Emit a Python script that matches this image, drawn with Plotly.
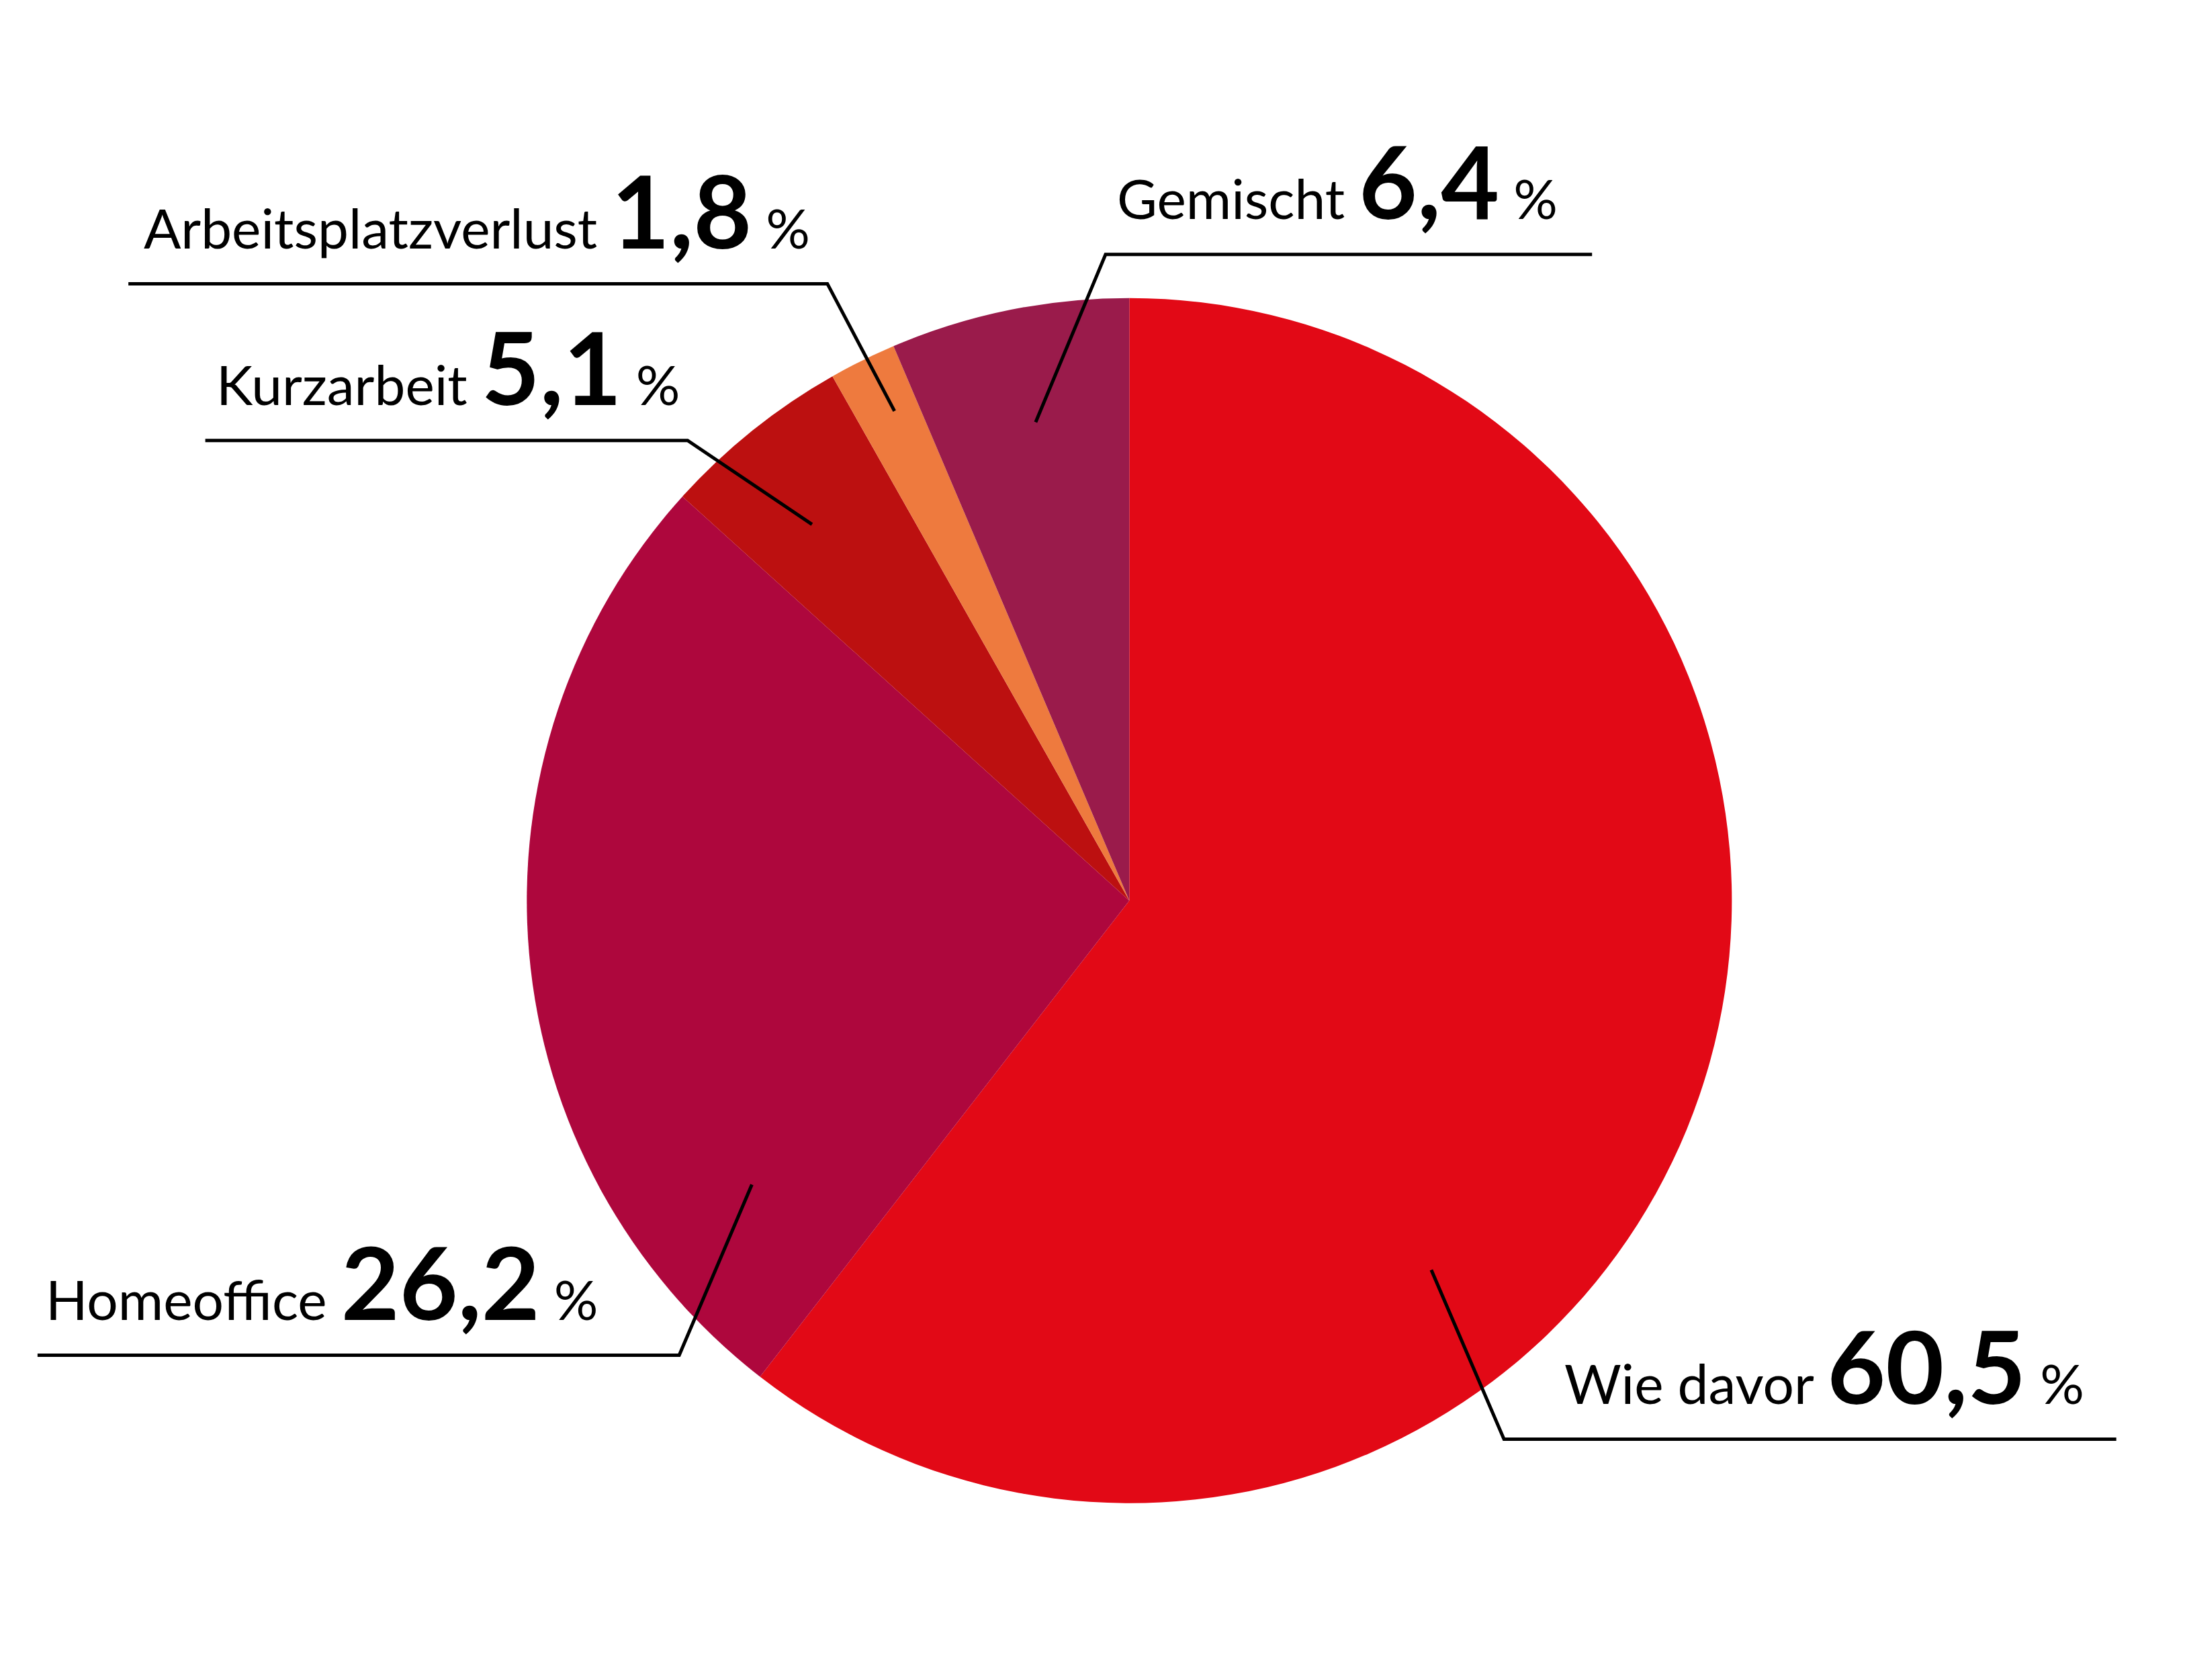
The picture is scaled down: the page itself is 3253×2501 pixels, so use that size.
import plotly.graph_objects as go

labels = ["Wie davor", "Homeoffice", "Kurzarbeit", "Arbeitsplatzverlust", "Gemischt"]
values = [60.5, 26.2, 5.1, 1.8, 6.4]
value_text = ["60,5", "26,2", "5,1", "1,8", "6,4"]
colors = ["#E20916", "#AE073D", "#BC1010", "#EE7A3E", "#9A1B4B"]

W, H = 3253, 2501
DW, DH = 1563, 1201  # reference-display coordinate frame
def px(x): return x / DW
def py(y): return 1 - y / DH

cx, cy, r = 804, 640, 431
fig = go.Figure(go.Pie(
    labels=labels, values=values, marker=dict(colors=colors, line=dict(width=0)),
    sort=False, direction="clockwise", rotation=0, textinfo="none", hoverinfo="label+percent",
    domain=dict(x=[px(cx - r), px(cx + r)], y=[py(cy + r), py(cy - r)]),
    showlegend=False,
))

leaders = {
    "Wie davor": [(1020, 904), (1072, 1025), (1510, 1025)],
    "Homeoffice": [(534, 843), (482, 965), (23, 965)],
    "Kurzarbeit": [(577, 371), (488, 311), (143, 311)],
    "Arbeitsplatzverlust": [(636, 290), (588, 199), (88, 199)],
    "Gemischt": [(737, 298), (787, 178), (1135, 178)],
}
text_pos = {
    "Wie davor": (1114, 1016),
    "Homeoffice": (28, 956),
    "Kurzarbeit": (150, 302),
    "Arbeitsplatzverlust": (98, 190),
    "Gemischt": (794, 169),
}

shapes, annotations = [], []
for lab, val in zip(labels, value_text):
    pts = leaders[lab]
    path = "M " + " L ".join(f"{px(x)},{py(y)}" for x, y in pts)
    shapes.append(dict(type="path", path=path, xref="paper", yref="paper",
                       line=dict(color="black", width=5)))
    tx, ty = text_pos[lab]
    annotations.append(dict(
        x=px(tx), y=py(ty), xref="paper", yref="paper", xanchor="left", yanchor="bottom",
        showarrow=False,
        text=f"{lab} <b><span style='font-size:150px'>{val}</span></b> %",
        font=dict(family="Lato", size=82, color="black"),
    ))

fig.update_layout(width=W, height=H, margin=dict(l=0, r=0, t=0, b=0),
                  paper_bgcolor="white", plot_bgcolor="white",
                  shapes=shapes, annotations=annotations)
fig.write_html("out.html")
